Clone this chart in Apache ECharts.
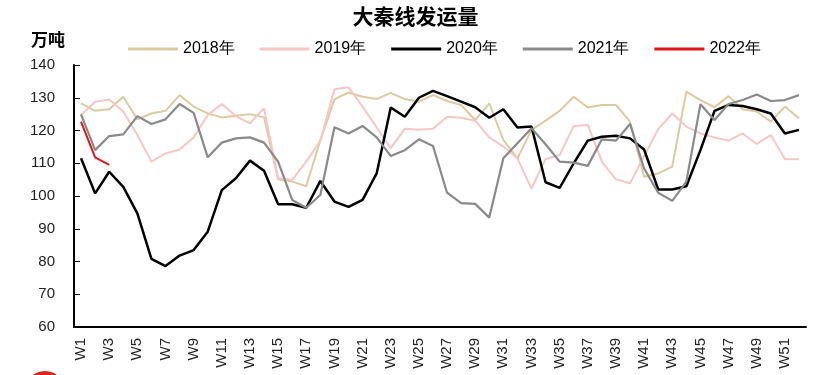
<!DOCTYPE html>
<html>
<head>
<meta charset="utf-8">
<script src="https://cdn.jsdelivr.net/npm/echarts@6/dist/echarts.min.js"></script>
<style>html,body{margin:0;padding:0;background:#fff}#c{width:831px;height:375px}</style>
</head>
<body>
<div id="c"></div>
<script>
const weeks = Array.from({length: 52}, (_, i) => 'W' + (i + 1));
const yTicks = [60, 70, 80, 90, 100, 110, 120, 130, 140];
const s2018 = [128.3,126,126.5,130.3,123.4,125.2,126,130.8,127.3,125.2,124,124.5,125,124,105.1,104.4,103,117,129.5,131.6,130.3,129.6,131.5,129.6,128.8,130.8,129,127.8,123.2,128.3,117.1,111.5,120.2,123,126,130.3,127,127.8,127.8,122.7,105.9,106.9,109,131.9,129.3,127.1,130.5,126.5,125.8,122.7,127.3,123.7];
const s2019 = [124.7,128.8,129.5,125.8,118.6,110.5,113,114.2,117.9,124.7,128.1,124.4,122.2,126.8,105.4,104.9,110.5,116.9,132.6,133.2,127.3,121,114.6,120.5,120.2,120.5,124.2,123.9,123,117.9,115.1,111.5,102.3,111.3,112.5,121.4,121.7,110.5,105.1,103.9,112.2,120.4,125.2,121.2,119.1,117.9,116.9,119.1,115.9,118.6,111.2,111.2];
const s2020 = [111.5,100.8,107.4,102.8,94.7,80.8,78.6,81.8,83.5,89.1,101.8,105.4,110.8,107.7,97.5,97.5,96.4,104.6,98.3,96.7,98.8,106.9,127,124.2,130,132.1,130.5,128.8,127.1,123.9,126.5,120.9,121.2,104.2,102.5,110,116.9,118.1,118.4,117.6,114.2,102,102,103,114,126,127.8,127.5,126.5,125.2,119.1,120.2];
const s2021 = [124.9,114,118.3,118.8,124.4,122,123.4,128.1,125.4,111.8,116.3,117.6,117.9,116.3,110.5,98.8,96.4,100.3,121,119.1,121.4,117.9,112.2,114,117.3,115.3,101,97.8,97.6,93.4,111.5,116.1,120.7,115.8,110.5,110.2,109.2,117.3,116.9,122,108.4,101,98.5,104.4,128,123.2,128.1,129.3,131,129,129.3,130.8];
const s2022 = [122.7,111.8,109.5];

const chart = echarts.init(document.getElementById('c'));
const mk = (name, data, color, width) => ({
  name, type: 'line', data, symbol: 'none', smooth: false,
  lineStyle: {color, width}, itemStyle: {color}
});
chart.setOption({
  animation: false,
  title: {
    text: '大秦线发运量', left: 'center', top: 1,
    textStyle: {fontSize: 21, fontWeight: 'bold', color: '#000', fontFamily: 'Noto Sans CJK SC'}
  },
  legend: {
    top: 36, left: 123, itemGap: 25, itemWidth: 50, itemHeight: 3, icon: 'rect',
    textStyle: {fontSize: 16, color: '#000', fontFamily: 'Liberation Sans'},
    data: ['2018年', '2019年', '2020年', '2021年', '2022年']
  },
  graphic: [
    {type: 'text', left: 31, top: 31, style: {text: '万吨', fill: '#000', font: 'bold 17px "Noto Sans CJK SC"'}},
    {type: 'circle', shape: {cx: 45, cy: 391, r: 20}, style: {fill: '#d9261c'}}
  ],
  grid: {left: 74, right: 25, top: 65, bottom: 48, containLabel: false},
  xAxis: {
    type: 'category', data: weeks, boundaryGap: true,
    axisLine: {lineStyle: {color: '#000', width: 2}},
    axisTick: {inside: true, length: 5, interval: 0, lineStyle: {color: '#000'}},
    axisLabel: {interval: 1, rotate: 90, fontSize: 15, color: '#222', margin: 11, fontFamily: 'Liberation Sans'}
  },
  yAxis: {
    type: 'value', min: yTicks[0], max: yTicks[yTicks.length - 1], interval: 10,
    splitLine: {show: false},
    axisLine: {show: true, lineStyle: {color: '#000', width: 2}},
    axisTick: {show: true, inside: true, length: 6, lineStyle: {color: '#000'}},
    axisLabel: {fontSize: 15, color: '#222', margin: 19, fontFamily: 'Liberation Sans'}
  },
  series: [
    mk('2018年', s2018, '#dccaa0', 2),
    mk('2019年', s2019, '#f7c6c6', 2),
    mk('2020年', s2020, '#000000', 2.5),
    mk('2021年', s2021, '#8a8a8a', 2.2),
    mk('2022年', s2022, '#e0151b', 2)
  ]
});
</script>
</body>
</html>
